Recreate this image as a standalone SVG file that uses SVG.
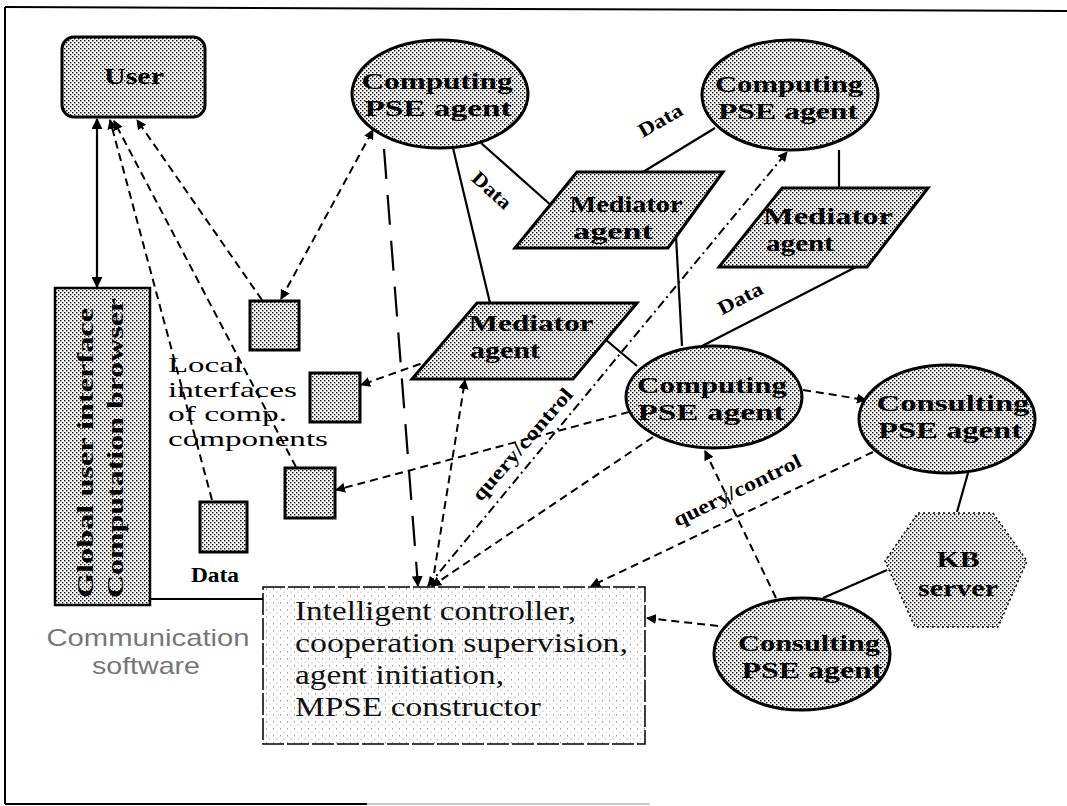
<svg xmlns="http://www.w3.org/2000/svg" width="1067" height="806" viewBox="0 0 1067 806">
  <defs>
    <!-- halftone stipple used for the agent shapes -->
    <pattern id="stip" width="4" height="4" patternUnits="userSpaceOnUse">
      <rect width="4" height="4" fill="#fff"/>
      <rect x="0" y="0" width="1.4" height="1.4" fill="#000"/>
      <rect x="2" y="2" width="1.4" height="1.4" fill="#000"/>
    </pattern>
    <!-- sparse stipple for the controller panel -->
    <pattern id="sparse" width="7" height="7" patternUnits="userSpaceOnUse">
      <rect width="7" height="7" fill="#fff"/>
      <rect x="0" y="0" width="1" height="1.5" fill="#999"/>
      <rect x="3.5" y="3.5" width="1" height="1.5" fill="#bbb"/>
    </pattern>
    <marker id="ah" viewBox="0 0 10 10" refX="9" refY="5" markerWidth="5" markerHeight="5" orient="auto-start-reverse" markerUnits="strokeWidth">
      <path d="M0,0 L10,5 L0,10 z" fill="#000"/>
    </marker>
  </defs>
  <style>
    .frame { stroke: #000; stroke-width: 2; fill: none; }
    .node { fill: url(#stip); stroke: #000; stroke-width: 3; }
    .box { fill: url(#stip); stroke: #000; stroke-width: 3; }
    .lbl { font-family: "Liberation Serif", "Times New Roman", serif; font-weight: bold; font-size: 24px; fill: #000; text-anchor: middle; }
    .small { font-family: "Liberation Serif", "Times New Roman", serif; font-weight: bold; font-size: 20px; fill: #000; text-anchor: middle; }
    .plain { font-family: "Liberation Serif", "Times New Roman", serif; font-size: 22px; fill: #000; }
    .ctl { font-family: "Liberation Serif", "Times New Roman", serif; font-size: 28px; fill: #111; }
    .comm { font-family: "Liberation Sans", Arial, sans-serif; font-size: 24px; fill: #777; text-anchor: middle; }
    .solid { stroke: #000; stroke-width: 2.2; fill: none; }
    .dash { stroke: #000; stroke-width: 2; fill: none; stroke-dasharray: 8 5; }
    .longdash { stroke: #000; stroke-width: 2.2; fill: none; stroke-dasharray: 30 16; }
    .dashdot { stroke: #000; stroke-width: 2; fill: none; stroke-dasharray: 9 4 2 4; }
  </style>

  <!-- outer frame -->
  <g id="frame">
    <path class="frame" d="M5,7 L1067,11"/>
    <path class="frame" d="M5,7 L5,804"/>
    <path class="frame" d="M5,804 L367,804"/>
    <path d="M367,804 L650,804" stroke="#ccc" stroke-width="2" fill="none"/>
  </g>

  <!-- connectors -->
  <g id="connectors">
    <path class="solid" d="M97,287 L97,119" marker-start="url(#ah)" marker-end="url(#ah)"/>
    <path class="dash" d="M212,500 L110,120" marker-end="url(#ah)"/>
    <path class="dash" d="M296,467 L114,121" marker-end="url(#ah)"/>
    <path class="dash" d="M262,300 L137,120" marker-end="url(#ah)"/>
    <path class="dash" d="M281,299 L373,130" marker-start="url(#ah)" marker-end="url(#ah)"/>
    <path class="longdash" d="M384,149 L418,586" marker-end="url(#ah)"/>
    <path class="solid" d="M453,148 L490,303"/>
    <path class="solid" d="M481,143 L553,207"/>
    <path class="solid" d="M715,128 L643,172"/>
    <path class="solid" d="M839,150 L839,188"/>
    <path class="dashdot" d="M428,586 L787,152" marker-start="url(#ah)" marker-end="url(#ah)"/>
    <path class="solid" d="M676,236 L682,346"/>
    <path class="solid" d="M606,340 L637,366"/>
    <path class="solid" d="M702,346 L856,267"/>
    <path class="dash" d="M803,390 L866,400" marker-end="url(#ah)"/>
    <path class="dash" d="M776,598 L705,451" marker-end="url(#ah)"/>
    <path class="dash" d="M873,452 L591,586" marker-end="url(#ah)"/>
    <path class="dash" d="M718,626 L647,618" marker-end="url(#ah)"/>
    <path class="solid" d="M887,570 L823,598"/>
    <path class="solid" d="M968,473 L957,512"/>
    <path class="dash" d="M653,437 L432,586" marker-end="url(#ah)"/>
    <path class="dash" d="M629,412 L336,490" marker-end="url(#ah)"/>
    <path class="dash" d="M445,355 L361,385" marker-end="url(#ah)"/>
    <path class="dash" d="M432,586 L465,380" marker-end="url(#ah)"/>
    <path class="solid" d="M150,599 L263,599"/>

    <text class="small" transform="translate(492,190) rotate(42)" y="7" textLength="46" lengthAdjust="spacingAndGlyphs">Data</text>
    <text class="small" transform="translate(660,120) rotate(-30)" y="7" textLength="48" lengthAdjust="spacingAndGlyphs">Data</text>
    <text class="small" transform="translate(740,298) rotate(-28)" y="7" textLength="48" lengthAdjust="spacingAndGlyphs">Data</text>
    <text class="small" transform="translate(522,444) rotate(-49)" y="7" textLength="142" lengthAdjust="spacingAndGlyphs">query/control</text>
    <text class="small" transform="translate(737,490) rotate(-26)" y="7" textLength="140" lengthAdjust="spacingAndGlyphs">query/control</text>
  </g>

  <g id="user">
    <rect class="box" x="62" y="37" width="143" height="80" rx="12"/>
    <text class="lbl" x="134" y="84" font-size="31" textLength="60" lengthAdjust="spacingAndGlyphs">User</text>
  </g>

  <g id="global-interface">
    <rect x="55" y="288" width="95" height="317" fill="url(#stip)" stroke="#000" stroke-width="2.5"/>
    <text class="lbl" transform="translate(93,598) rotate(-90)" font-size="26" style="text-anchor:start" textLength="290" lengthAdjust="spacingAndGlyphs">Global user interface</text>
    <text class="lbl" transform="translate(123,598) rotate(-90)" font-size="26" style="text-anchor:start" textLength="300" lengthAdjust="spacingAndGlyphs">Computation browser</text>
  </g>

  <g id="computing-a">
    <ellipse class="node" cx="440" cy="94" rx="88" ry="54"/>
    <text class="lbl" x="437" y="89" textLength="151" lengthAdjust="spacingAndGlyphs">Computing</text>
    <text class="lbl" x="438" y="116" textLength="147" lengthAdjust="spacingAndGlyphs">PSE agent</text>
  </g>

  <g id="computing-b">
    <ellipse class="node" cx="790" cy="95" rx="88" ry="55"/>
    <text class="lbl" x="789" y="92" textLength="148" lengthAdjust="spacingAndGlyphs">Computing</text>
    <text class="lbl" x="788" y="119" textLength="140" lengthAdjust="spacingAndGlyphs">PSE agent</text>
  </g>

  <g id="computing-c">
    <ellipse class="node" cx="714" cy="397" rx="88" ry="51"/>
    <text class="lbl" x="712" y="393" textLength="150" lengthAdjust="spacingAndGlyphs">Computing</text>
    <text class="lbl" x="711" y="420" textLength="147" lengthAdjust="spacingAndGlyphs">PSE agent</text>
  </g>

  <g id="consulting-right">
    <ellipse class="node" cx="947" cy="419" rx="88" ry="54"/>
    <text class="lbl" x="953" y="411" textLength="153" lengthAdjust="spacingAndGlyphs">Consulting</text>
    <text class="lbl" x="950" y="438" textLength="144" lengthAdjust="spacingAndGlyphs">PSE agent</text>
  </g>

  <g id="consulting-bottom">
    <ellipse class="node" cx="802" cy="654" rx="88" ry="56"/>
    <text class="lbl" x="809" y="651" textLength="142" lengthAdjust="spacingAndGlyphs">Consulting</text>
    <text class="lbl" x="812" y="678" textLength="141" lengthAdjust="spacingAndGlyphs">PSE agent</text>
  </g>

  <g id="mediator-b">
    <polygon class="box" points="577,172 723,172 668,248 515,248"/>
    <text class="lbl" x="626" y="212" textLength="113" lengthAdjust="spacingAndGlyphs">Mediator</text>
    <text class="lbl" x="613" y="239" textLength="80" lengthAdjust="spacingAndGlyphs">agent</text>
  </g>

  <g id="mediator-c">
    <polygon class="box" points="782,188 928,188 867,267 719,267"/>
    <text class="lbl" x="828" y="224" textLength="130" lengthAdjust="spacingAndGlyphs">Mediator</text>
    <text class="lbl" x="800" y="251" textLength="68" lengthAdjust="spacingAndGlyphs">agent</text>
  </g>

  <g id="mediator-m">
    <polygon class="box" points="477,303 637,303 573,379 412,379"/>
    <text class="lbl" x="531" y="331" textLength="125" lengthAdjust="spacingAndGlyphs">Mediator</text>
    <text class="lbl" x="505" y="358" textLength="70" lengthAdjust="spacingAndGlyphs">agent</text>
  </g>

  <g id="kb-server">
    <polygon points="918,513 993,513 1027,561 998,627 915,627 885,561" fill="url(#stip)" stroke="#000" stroke-width="1.5" stroke-dasharray="2 3"/>
    <text class="lbl" x="958" y="567" font-size="26" textLength="43" lengthAdjust="spacingAndGlyphs">KB</text>
    <text class="lbl" x="958" y="596" font-size="26" textLength="80" lengthAdjust="spacingAndGlyphs">server</text>
  </g>

  <g id="local-interfaces">
    <rect class="box" x="250" y="301" width="49" height="49"/>
    <rect class="box" x="310" y="373" width="50" height="49"/>
    <rect class="box" x="285" y="468" width="50" height="50"/>
    <rect class="box" x="200" y="502" width="47" height="50"/>
    <text class="plain" x="168" y="372" textLength="75" lengthAdjust="spacingAndGlyphs">Local</text>
    <text class="plain" x="168" y="396.5" textLength="129" lengthAdjust="spacingAndGlyphs">interfaces</text>
    <text class="plain" x="168" y="421" textLength="119" lengthAdjust="spacingAndGlyphs">of comp.</text>
    <text class="plain" x="168" y="445.5" textLength="160" lengthAdjust="spacingAndGlyphs">components</text>
    <text class="small" x="215" y="582" font-size="22" textLength="48" lengthAdjust="spacingAndGlyphs">Data</text>
  </g>

  <g id="controller">
    <rect x="263" y="587" width="382" height="157" fill="url(#sparse)" stroke="#000" stroke-width="1.5" stroke-dasharray="22 3"/>
    <text class="ctl" x="295" y="620" textLength="281" lengthAdjust="spacingAndGlyphs">Intelligent controller,</text>
    <text class="ctl" x="295" y="652" textLength="333" lengthAdjust="spacingAndGlyphs">cooperation supervision,</text>
    <text class="ctl" x="295" y="684" textLength="209" lengthAdjust="spacingAndGlyphs">agent initiation,</text>
    <text class="ctl" x="295" y="716" textLength="246" lengthAdjust="spacingAndGlyphs">MPSE constructor</text>
  </g>

  <g id="communication-label">
    <text class="comm" x="148" y="646" textLength="203" lengthAdjust="spacingAndGlyphs">Communication</text>
    <text class="comm" x="146" y="674" textLength="108" lengthAdjust="spacingAndGlyphs">software</text>
  </g>
</svg>
